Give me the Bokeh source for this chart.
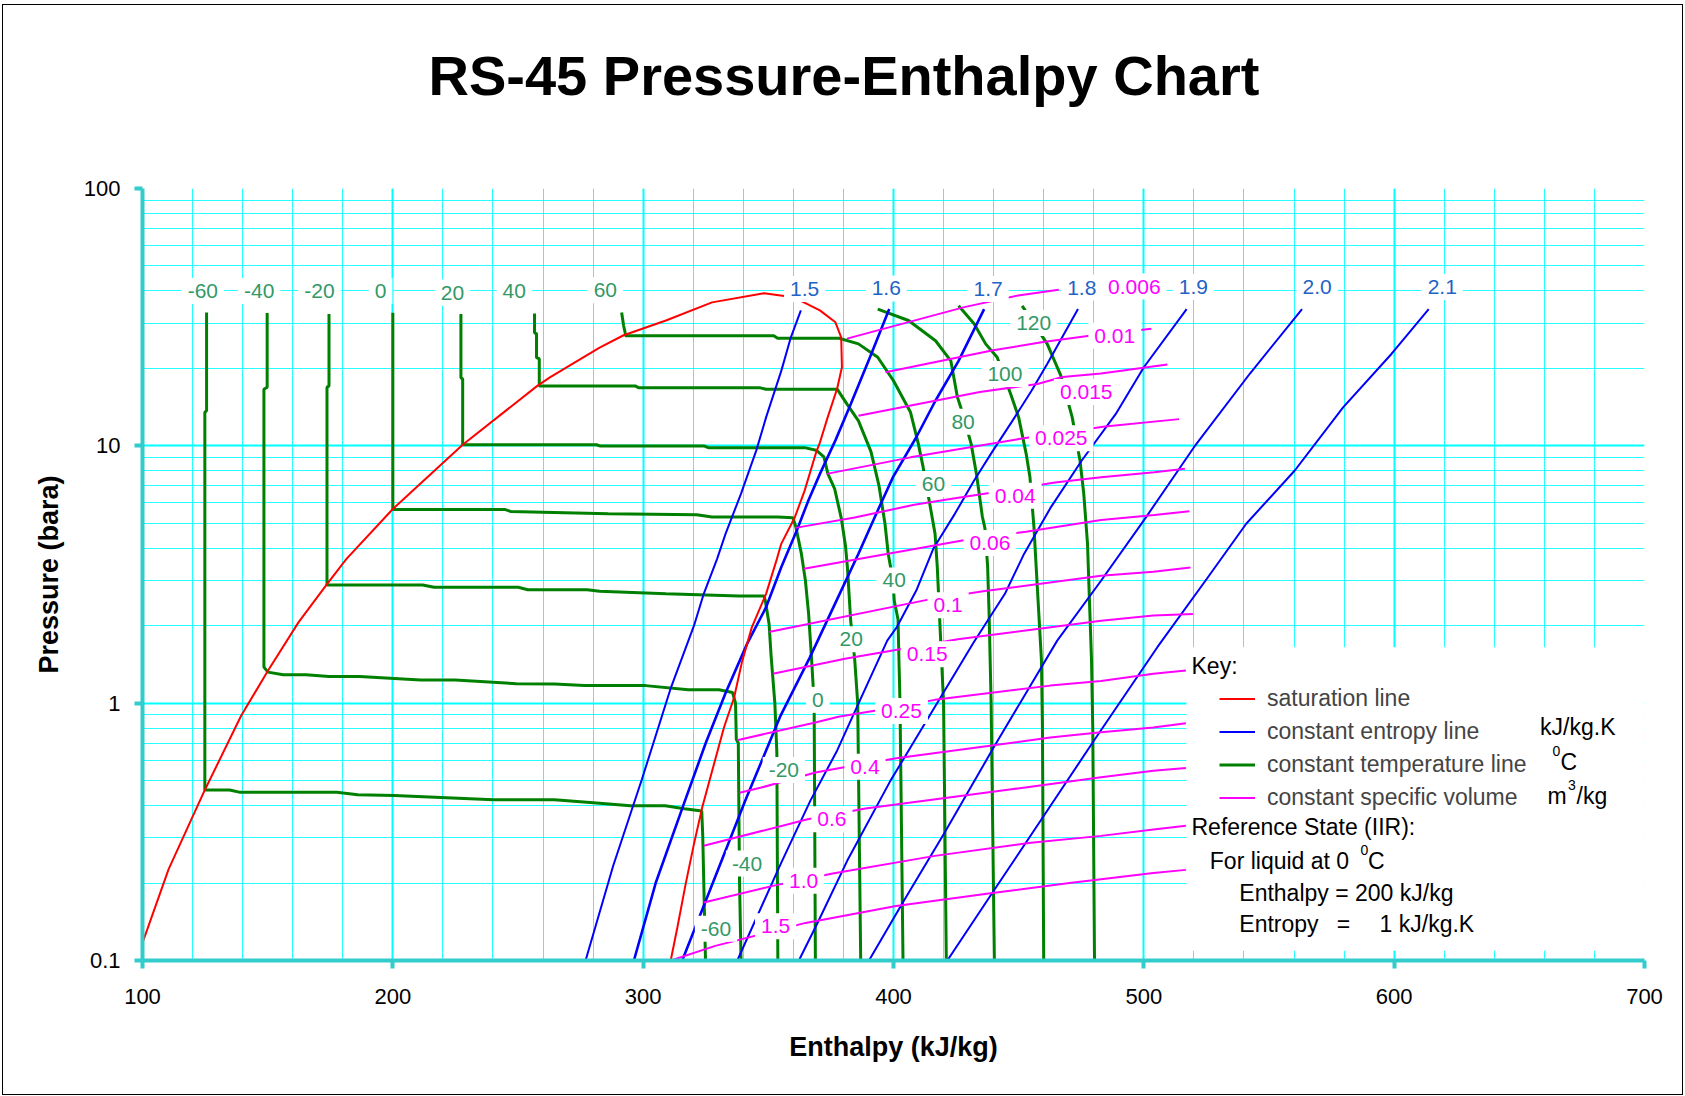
from bokeh.plotting import figure
from bokeh.models import FixedTicker, Legend, LegendItem, Label, BoxAnnotation, InlineStyleSheet, ColumnDataSource
from bokeh.core.properties import value
from bokeh.embed import file_html
from bokeh.resources import INLINE

FONT = "Liberation Sans"

# ---------------- data: (enthalpy kJ/kg, pressure bara) ----------------
SAT = [(100, 0.117), (110.4, 0.226), (124.9, 0.46), (139.4, 0.893), (150.1, 1.336), (162.3, 2.06),
       (173.7, 2.90), (181.4, 3.63), (200, 5.68), (227.9, 10.1), (257.7, 17.1), (262.9, 18.5),
       (282.6, 24.1), (292.2, 26.9), (309.1, 30.7), (327.5, 36.1), (348.3, 39.2), (360, 37.8),
       (370.6, 33.6), (376.8, 30.2), (379.1, 26.4), (379.4, 20.2), (377.5, 16.7), (373.7, 12.9),
       (370.6, 10.3), (369.1, 9.44), (364.5, 6.70), (360.6, 5.28), (355.2, 4.17), (353.4, 3.63),
       (349.1, 2.66), (343.4, 1.97), (339.5, 1.45), (336.3, 1.05), (332.3, 0.806), (328.3, 0.58),
       (323.6, 0.394), (320.3, 0.284), (317, 0.199), (313.7, 0.135), (311, 0.1)]

# constant temperature lines (deg C)
T_M60 = [(125.6, 33), (125.6, 13.7), (124.9, 13.5), (124.9, 0.46), (134.8, 0.46), (138.6, 0.451),
         (177.6, 0.451), (186, 0.441), (200.5, 0.438), (240.2, 0.421), (264.6, 0.421), (282.6, 0.408),
         (294.9, 0.399), (308.8, 0.399), (316.5, 0.389), (323.4, 0.381), (323.8, 0.305), (324.9, 0.1)]
T_M40 = [(149.8, 32.8), (149.8, 16.9), (148.5, 16.6), (148.5, 1.38), (150.1, 1.32), (156.2, 1.29),
         (165.3, 1.29), (174.5, 1.27), (186.7, 1.27), (211.1, 1.23), (224.9, 1.23), (249.3, 1.19),
         (264.6, 1.186), (276.5, 1.17), (301, 1.17), (318, 1.127), (330.3, 1.127), (335.7, 1.10),
         (336.9, 1.0), (337.2, 0.724), (338, 0.7), (338.5, 0.2), (339.1, 0.1)]
T_M20 = [(174.5, 32.5), (174.5, 17.1), (173.7, 16.9), (173.7, 2.88), (211.9, 2.88), (216.5, 2.82),
         (250.1, 2.82), (253.9, 2.76), (277.6, 2.76), (282.6, 2.72), (309.1, 2.66), (338.3, 2.61),
         (348.3, 2.61), (348.8, 2.5), (350.3, 2.03), (351.1, 1.53), (352.6, 1.0), (353.4, 0.643),
         (353.8, 0.1)]
T_0 = [(200, 32.9), (200, 5.66), (244.7, 5.66), (247, 5.56), (286, 5.44), (321.4, 5.40), (327.5, 5.29),
       (353.7, 5.29), (359.8, 5.26), (361, 4.84), (363.2, 3.81), (364.8, 3.0), (366.1, 2.22),
       (367.3, 1.47), (368.3, 1.0), (368.8, 0.1)]
T_20 = [(227.2, 32.5), (227.2, 18.4), (227.9, 18.2), (227.9, 10.1), (281.4, 10.1), (282.9, 9.98),
        (324.5, 9.98), (326, 9.84), (364.5, 9.84), (369.1, 9.62), (372.2, 9.06), (373.8, 7.78),
        (376.5, 6.8), (379.2, 5.2), (380.8, 4.1), (381.6, 3.37), (382.9, 2.09), (384.5, 1.48),
        (385.7, 1.0), (386.9, 0.1)]
T_40 = [(256.6, 32.7), (256.6, 27.5), (257.4, 27.3), (257.4, 22), (258.5, 21.8), (258.5, 17.1),
        (296.8, 17.1), (298.3, 16.8), (346.8, 16.8), (349.1, 16.6), (377.5, 16.6), (381.5, 14.5),
        (386, 12.5), (391, 9.5), (394.2, 7.0), (396.6, 4.98), (397.9, 3.80), (399.8, 3.0),
        (400.3, 2.5), (401.8, 2.12), (402.6, 1.0), (403.8, 0.1)]
T_60 = [(291.4, 33), (292.2, 29.3), (292.9, 27.2), (292.9, 26.8), (352.2, 26.8), (353.7, 26.2),
        (378.3, 26.2), (386, 24.9), (393.7, 22.1), (400, 17.9), (406.8, 13.5), (409.9, 10.2),
        (411.8, 8.3), (414.6, 5.86), (416.6, 4.55), (417.5, 3.37), (418.6, 1.97), (420, 1.0),
        (421.1, 0.1)]
T_80 = [(393.7, 34), (406, 30.7), (416.8, 25.6), (422.9, 21.4), (425.5, 15.5), (427.5, 13.5),
        (431, 10.2), (433.2, 7.7), (435.5, 5.3), (436.5, 4.8), (437.6, 3.4), (438.2, 2.2),
        (439, 1.0), (440.3, 0.1)]
T_100 = [(426, 35), (432.2, 29.8), (436.8, 24.9), (441.4, 22.1), (446.8, 15.9), (450, 12.9),
         (453, 9.31), (454.5, 7.56), (456.1, 4.84), (457.6, 2.66), (459.1, 1.47), (459.5, 0.8),
         (460, 0.1)]
T_120 = [(451.4, 35), (461.4, 24.9), (466.8, 18.8), (471.4, 12.9), (474.5, 8.77), (476, 6.52),
         (477.5, 4.17), (478, 3.0), (479.1, 1.47), (479.6, 0.8), (480.3, 0.1)]

# constant entropy lines (kJ/kg.K)
S_15 = [(363, 33.6), (359, 26.4), (355.2, 19.6), (349.1, 12.9), (345.2, 9.6), (339.1, 6.52),
        (332.9, 4.55), (329.5, 3.63), (324.2, 2.66), (320.3, 2.0), (311.1, 1.15), (299.5, 0.506),
        (288, 0.233), (277, 0.1)]
S_16 = [(398.3, 34), (390.6, 22.1), (382.9, 14.5), (376.8, 10.5), (370.6, 7.78), (366, 6.13),
        (361.4, 4.70), (355.2, 3.38), (349.1, 2.36), (341.5, 1.7), (333, 1.1), (325, 0.7),
        (316, 0.4), (305, 0.2), (296.3, 0.1)]
S_17 = [(436.2, 34), (426, 21.4), (416.8, 15.0), (409.1, 10.8), (399.8, 7.56), (393.7, 5.61),
        (386, 3.81), (379.8, 2.83), (366.5, 1.5), (354.9, 0.895), (341, 0.423), (315.6, 0.1)]
S_18 = [(473.7, 34), (461.4, 20.8), (455.2, 16.4), (447.5, 12.5), (439.8, 9.6), (432.2, 7.33),
        (424.5, 5.44), (416, 4.0), (409.1, 2.74), (401.4, 1.98), (397.5, 1.75), (386.5, 1.02),
        (377.5, 0.655), (366.8, 0.418), (354.9, 0.237), (337.6, 0.1)]
S_19 = [(517.1, 34), (500, 20.2), (488.8, 13.3), (475.2, 8.77), (462.9, 5.78), (452.2, 3.81),
        (444.5, 2.66), (432, 1.72), (398.8, 0.5), (381.5, 0.244), (369.5, 0.139), (362.2, 0.1)]
S_20 = [(563.2, 34), (542.4, 19.1), (520.1, 9.9), (500, 5.13), (482.9, 2.99), (465.4, 1.75),
        (440.1, 0.675), (420.1, 0.31), (404.2, 0.171), (390.2, 0.1)]
S_21 = [(613.8, 34), (599, 22.8), (579.6, 14.1), (560.3, 8.02), (540.9, 4.98), (524.6, 2.99),
        (505.4, 1.65), (480.1, 0.716), (458.8, 0.35), (440.1, 0.187), (421.5, 0.1)]

# constant specific volume lines (m3/kg)
V_0006 = [(381.4, 26.1), (428.3, 34.6), (449.8, 38.4), (466, 40.4)]
V_001 = [(396.8, 19.3), (439.8, 23.5), (459.8, 25.3), (478.3, 26.8), (503, 28.5)]
V_0015 = [(386, 13.1), (434.5, 16.2), (457.5, 17.4), (467.5, 18.5), (482.9, 19.1), (509.4, 20.7)]
V_0025 = [(373.3, 7.78), (406.8, 9.02), (454.5, 10.8), (484.5, 11.9), (514.1, 12.7)]
V_004 = [(360.8, 4.8), (384.5, 5.27), (408.3, 5.9), (425.2, 6.27), (438.3, 6.56), (464.5, 7.21),
         (482.9, 7.55), (504.2, 7.89), (516.4, 8.15)]
V_006 = [(364.2, 3.33), (427.5, 4.29), (452.9, 4.64), (482.9, 5.15), (504.2, 5.38), (518.2, 5.57)]
V_01 = [(350.2, 1.89), (413.4, 2.52), (435.8, 2.72), (482.9, 3.13), (503.8, 3.24), (518.6, 3.37)]
V_015 = [(351.8, 1.30), (381.1, 1.49), (391, 1.55), (402.6, 1.62), (425.7, 1.77), (482.9, 2.09),
         (503.8, 2.19), (519.6, 2.22)]
V_025 = [(337.5, 0.718), (368.8, 0.841), (378, 0.885), (394.9, 0.942), (416.5, 1.03), (462.6, 1.17),
         (482.9, 1.22), (503.8, 1.30), (516.8, 1.34)]
V_04 = [(338.5, 0.449), (347.2, 0.47), (368.8, 0.538), (380.3, 0.564), (401.1, 0.611), (462.6, 0.735),
        (482.9, 0.771), (503.8, 0.804), (516.8, 0.836)]
V_06 = [(324.2, 0.279), (365.7, 0.354), (388.8, 0.39), (447.2, 0.463), (482.9, 0.515), (503.8, 0.546),
        (516.8, 0.56)]
V_10 = [(324.2, 0.168), (351.8, 0.195), (375.7, 0.218), (416.5, 0.255), (454.9, 0.287), (482.9, 0.305),
        (503.8, 0.323), (516.8, 0.334)]
V_15 = [(311.1, 0.1), (328.8, 0.114), (364.9, 0.14), (401, 0.163), (439.5, 0.183), (470.3, 0.2),
        (482.9, 0.207), (503.8, 0.219), (516.8, 0.225)]

# curve labels
TEMP_LABELS = ["-60", "-40", "-20", "0", "20", "40", "60", "80", "100", "120",
               "60", "40", "20", "0", "-20", "-40", "-60"]
TEMP_LABEL_H = [124.1, 146.6, 170.7, 195.1, 223.8, 248.5, 284.9, 427.8, 444.5, 456,
                416, 400.3, 383.1, 369.8, 356.2, 341.5, 329.1]
TEMP_LABEL_P = [40, 40, 40, 40, 39.4, 40, 40.2, 12.4, 19.0, 30,
                7.11, 3.0, 1.77, 1.03, 0.55, 0.238, 0.133]

ENT_LABELS = ["1.5", "1.6", "1.7", "1.8", "1.9", "2.0", "2.1"]
ENT_LABEL_H = [364.5, 397.1, 437.8, 475.2, 519.8, 569.2, 619.2]
ENT_LABEL_P = [40.7, 40.9, 40.7, 41.2, 41.4, 41.4, 41.4]

VOL_LABELS = ["0.006", "0.01", "0.015", "0.025", "0.04", "0.06", "0.1", "0.15", "0.25",
              "0.4", "0.6", "1.0", "1.5"]
VOL_LABEL_H = [496.2, 488.4, 477, 467, 448.6, 438.5, 421.8, 413.5, 403.2, 388.6, 375.4, 364.1, 352.9]
VOL_LABEL_P = [41.6, 26.8, 16.2, 10.7, 6.4, 4.19, 2.4, 1.55, 0.932, 0.566, 0.354, 0.204, 0.136]

X_TICKS = [100, 200, 300, 400, 500, 600, 700]
Y_TICKS = [0.1, 1, 10, 100]
Y_TICK_TEXT = ["0.1", "1", "10", "100"]

TEMP_LINES = [T_M60, T_M40, T_M20, T_0, T_20, T_40, T_60, T_80, T_100, T_120]
ENT_LINES = [S_15, S_16, S_17, S_18, S_19, S_20, S_21]
ENT_WIDTHS = [2, 2.6, 2.6, 2, 2, 2, 2]
VOL_LINES = [V_0006, V_001, V_0015, V_0025, V_004, V_006, V_01, V_015, V_025, V_04, V_06, V_10, V_15]


def xs_of(lines):
    return [[a for a, b in ln] for ln in lines]


def ys_of(lines):
    return [[b for a, b in ln] for ln in lines]


# ---------------- figure ----------------
FL, FT, FR, FB = 142, 188, 1644, 960   # frame in page pixels (for annotation placement)
W, H = 1685, 1096

p = figure(width=W, height=H, x_range=(100, 700), y_range=(0.1, 100), y_axis_type="log",
           output_backend="svg", toolbar_location=None,
           min_border_left=FL, min_border_right=W - FR, min_border_top=FT, min_border_bottom=H - FB)
p.outline_line_color = None
p.background_fill_color = "white"
p.border_fill_color = "white"
p.stylesheets = [InlineStyleSheet(css=(
    ":host { position: relative; }"
    ":host::after { content: ''; position: absolute; left: 2px; top: 4px; right: 2px; bottom: 1px;"
    " border: 1px solid #000; pointer-events: none; z-index: 1000; }"))]

# title: a blank second line lifts the title away from the plot area
p.title.text = "RS-45 Pressure-Enthalpy Chart\n\u00a0"
p.title.text_font = FONT
p.title.text_font_size = "56px"
p.title.text_font_style = "bold"
p.title.text_color = "black"
p.title.text_line_height = 1.2
p.title.align = "left"
p.title.offset = 286
p.title.standoff = 12

x_minor = [v for v in range(100, 701, 20)]
y_minor = [k * m for m in (0.1, 1, 10) for k in range(2, 10)]
xt = FixedTicker(ticks=X_TICKS, minor_ticks=x_minor)
yt = FixedTicker(ticks=Y_TICKS, minor_ticks=y_minor)
p.xaxis.ticker = xt
p.yaxis.ticker = yt
p.xgrid.ticker = xt
p.ygrid.ticker = yt
for g in (p.xgrid[0], p.ygrid[0]):
    g.grid_line_color = "#00FFFF"
    g.grid_line_width = 2
    g.minor_grid_line_color = "#00FFFF"
    g.minor_grid_line_width = 1
    g.minor_grid_line_alpha = 0.85

p.yaxis.major_label_overrides = {t: s for t, s in zip(Y_TICKS, Y_TICK_TEXT)}
for ax in (p.xaxis[0], p.yaxis[0]):
    ax.axis_line_color = "#33CCCC"
    ax.axis_line_width = 4
    ax.major_tick_line_color = "#33CCCC"
    ax.major_tick_line_width = 4
    ax.major_tick_in = 0
    ax.major_tick_out = 8
    ax.minor_tick_line_color = None
    ax.major_label_text_font = FONT
    ax.major_label_text_font_size = "22px"
    ax.major_label_text_color = "black"
    ax.axis_label_text_font = FONT
    ax.axis_label_text_font_size = "27px"
    ax.axis_label_text_font_style = "bold"
    ax.axis_label_text_color = "black"
p.xaxis.axis_label = "Enthalpy (kJ/kg)"
p.yaxis.axis_label = "Pressure (bara)"
p.xaxis.major_label_standoff = 20
p.yaxis.major_label_standoff = 14
p.xaxis.axis_label_standoff = 25
p.yaxis.axis_label_standoff = 17

# ---------------- curves ----------------
green_r = p.multi_line(xs=xs_of(TEMP_LINES), ys=ys_of(TEMP_LINES), line_color="#008000", line_width=3)
ent_src = ColumnDataSource(dict(xs=xs_of(ENT_LINES), ys=ys_of(ENT_LINES), w=ENT_WIDTHS))
blue_r = p.multi_line(xs="xs", ys="ys", source=ent_src, line_color="#0000FF", line_width="w")
mag_r = p.multi_line(xs=xs_of(VOL_LINES), ys=ys_of(VOL_LINES), line_color="#FF00FF", line_width=2)
red_r = p.line([a for a, b in SAT], [b for a, b in SAT], line_color="#FF0000", line_width=2)

lab_style = dict(text_align="center", text_baseline="middle", text_font=value(FONT),
                 text_font_size="21px", background_fill_color="white", padding=6)
p.text(x=TEMP_LABEL_H, y=TEMP_LABEL_P, text=TEMP_LABELS, text_color="#339966", **lab_style)
p.text(x=ENT_LABEL_H, y=ENT_LABEL_P, text=ENT_LABELS, text_color="#1F63C6", **lab_style)
p.text(x=VOL_LABEL_H, y=VOL_LABEL_P, text=VOL_LABELS, text_color="#FF00FF", **lab_style)

# white key panel
p.add_layout(BoxAnnotation(left=517, right=700, bottom=0.109, top=1.65, fill_color="white",
                           fill_alpha=1.0, line_color=None))

legend = Legend(items=[LegendItem(label="saturation line", renderers=[red_r]),
                       LegendItem(label="constant entropy line", renderers=[blue_r]),
                       LegendItem(label="constant temperature line", renderers=[green_r]),
                       LegendItem(label="constant specific volume", renderers=[mag_r])],
                location=(1219 - FL, FB - 811), orientation="vertical",
                label_text_font=FONT, label_text_font_size="23px", glyph_width=36, glyph_height=25,
                label_height=25, label_standoff=12, spacing=6, padding=0, margin=0,
                background_fill_alpha=0, border_line_alpha=0)
p.add_layout(legend)

DY = 8.5  # baseline correction for key notes


def note(text, fx, fy, size="23px", style="normal", align="left"):
    p.add_layout(Label(x=fx - FL, y=FB - (fy - DY), x_units="screen", y_units="screen", text=text,
                       text_font=FONT, text_font_size=size, text_font_style=style,
                       text_align=align, text_baseline="alphabetic", text_color="black"))


note("Key:", 1191, 673.5)
note("kJ/kg.K", 1539.6, 735)
note("0", 1552, 759, size="14px")
note("C", 1560, 770)
note("m", 1547, 804)
note("3", 1567.5, 793, size="14px")
note("/kg", 1576, 804)
note("Reference State (IIR):", 1191, 835)
note("For liquid at 0", 1209.3, 869.3)
note("0", 1360, 858, size="14px")
note("C", 1367.5, 869.3)
note("Enthalpy = 200 kJ/kg", 1238.8, 900.7)
note("Entropy", 1238.8, 931.7)
note("=", 1336.2, 931.7)
note("1 kJ/kg.K", 1379.1, 931.7)

open("out.html", "w").write(file_html(p, INLINE))
